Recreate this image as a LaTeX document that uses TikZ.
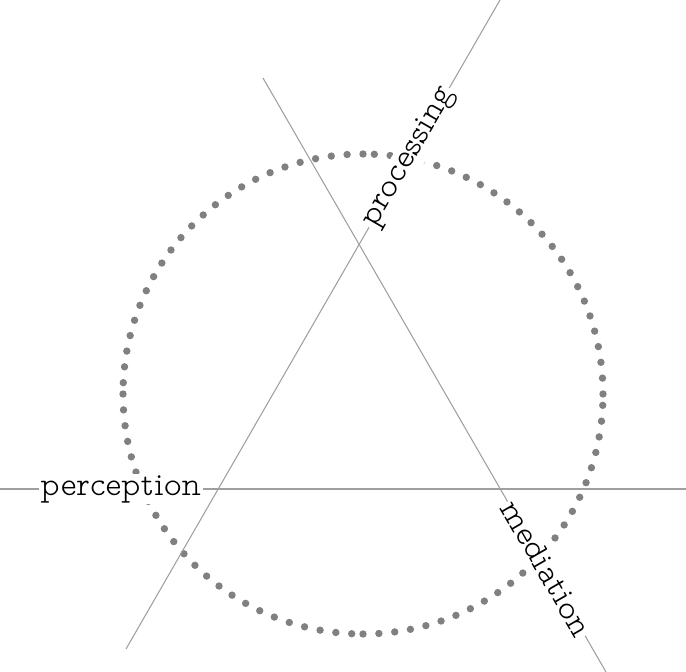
\documentclass[tikz,border=0pt]{standalone}
\usepackage{fontspec}
\usepackage{tikz}
\newfontfamily\propfont{lmmonoproplt10-regular.otf}

\tikzset{
  dotring/.style={draw=gray, line width=4.2pt, line cap=round, dash pattern=on 0pt off 9.05pt},
  axisline/.style={draw=gray!75, line width=0.6pt},
  word/.style={fill=white, inner sep=1pt, font=\propfont\fontsize{19}{22}\selectfont}
}

\begin{document}
\begin{tikzpicture}[x=0.02cm, y=-0.02cm]
    \useasboundingbox (0,0) rectangle (686,672);

    % Dotted ring, drawn as four quarters
    \coordinate (c) at (363,394);
    \foreach \a in {0,90,180,270} {
        \draw[dotring] (c) ++(\a:240) arc[start angle=\a, end angle=\a-90, radius=240];
    }

    % Line ends
    \coordinate (h-start) at (0,489);
    \coordinate (h-end) at (686,489);
    \coordinate (up-start) at (126,649);
    \coordinate (up-end) at (500,0);
    \coordinate (down-start) at (263,78);
    \coordinate (down-end) at (606,672);

    % Lines with their words
    \draw[axisline] (h-start) -- node[word, pos=0.176] (perception) {perception} (h-end);
    \draw[axisline] (up-start) -- node[word, pos=0.757, sloped] (processing) {processing} (up-end);
    \draw[axisline] (down-start) -- node[word, pos=0.826, sloped] (mediation) {mediation} (down-end);
\end{tikzpicture}
\end{document}
